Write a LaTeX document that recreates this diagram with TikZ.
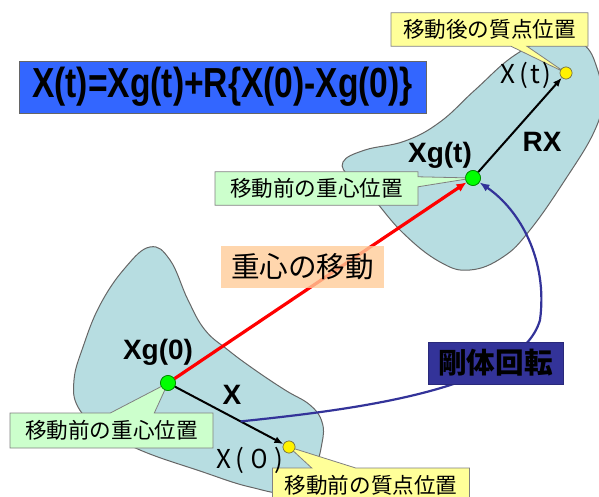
\documentclass[tikz,border=0pt]{standalone}
\usepackage{fontspec}
\setmainfont{Liberation Sans}
\newfontfamily\jpfont{Noto Sans CJK JP}
\usetikzlibrary{positioning,calc}
\usetikzlibrary{arrows.meta,shapes.callouts}
\definecolor{BodyBlue}{RGB}{183,221,225}
\definecolor{EqBlue}{RGB}{51,102,255}
\definecolor{CallGreen}{RGB}{204,255,204}
\definecolor{CallYellow}{RGB}{255,255,153}
\definecolor{MoveOrange}{RGB}{255,204,153}
\definecolor{RotNavy}{RGB}{51,51,153}
\tikzset{
  blob/.style={draw=black!60,fill=BodyBlue,line width=0.5pt},
  callg/.style={rectangle callout,draw=black!50,fill=CallGreen,font=\jpfont\fontsize{10.8}{12}\selectfont,
    minimum width=101.5pt,inner xsep=2pt},
  cally/.style={rectangle callout,draw=black!50,fill=CallYellow,font=\jpfont\fontsize{10.8}{12}\selectfont,
    minimum width=98.5pt,inner xsep=2pt},
  dotg/.style={circle,draw=green!50!black,fill=green,inner sep=0pt,minimum size=7.5pt,line width=0.3pt},
  doty/.style={circle,draw=black!60!yellow,fill=yellow,inner sep=0pt,minimum size=6pt,line width=0.3pt},
  lab/.style={font=\bfseries\fontsize{14}{16}\selectfont,inner sep=0pt},
  jlab/.style={font=\jpfont\fontsize{13}{15}\selectfont,inner sep=0pt},
}
\tikzset{vec/.style={draw=black,line width=1pt,-{Latex[length=4.5pt,width=3.5pt]}},
  move/.style={draw=red,line width=1.6pt,-{Latex[length=5pt,width=4.5pt]}},
  rot/.style={draw=RotNavy,line width=1.1pt,-{Latex[length=5pt,width=4pt]}}}

\begin{document}
\begin{tikzpicture}[x=0.5pt,y=-0.5pt]
\useasboundingbox (0,0) rectangle (599,497);
\clip (0,0) rectangle (599,497);
% bodies before and after the motion
\draw[blob] plot[smooth cycle,tension=0.7] coordinates {(150,247) (125,268) (100,305) (83,347) (74,380) (78,407) (100,428) (140,450) (200,471) (250,487) (290,492) (313,470) (322,443) (322,422) (310,405) (285,390) (255,370) (228,350) (205,330) (188,300) (170,260)};
\draw[blob] plot[smooth cycle,tension=0.7] coordinates {(343,162) (365,150) (405,141) (440,122) (475,90) (515,55) (555,37) (583,44) (597,68) (602,100) (594,132) (565,180) (530,230) (503,257) (470,270) (440,262) (403,233) (370,195) (350,178)};
% points
\node[dotg] (g0) at (168,383) {};
\node[dotg] (gt) at (473,178) {};
\node[doty] (x0) at (289,447) {};
\node[doty] (xt) at (566,73) {};
\coordinate (rotstart) at ($(g0)!0.6!(x0)$);
% vectors
\draw[move] (g0) -- (gt);
\draw[vec] (g0) -- (x0);
\draw[vec] (gt) -- (xt);
\draw[rot] (rotstart) .. controls (350,410) and (520,390) .. (540,320)
  .. controls (548,260) and (520,210) .. (gt);
% boxes
\node[draw=black!60,fill=EqBlue,minimum width=203.5pt,minimum height=26pt,inner sep=0pt,
  font=\bfseries\fontsize{21}{22}\selectfont] (eq) at (222.5,87)
  {\scalebox{0.8}[1]{X(t)=Xg(t)+R\{X(0)-Xg(0)\}}};
\node[fill=MoveOrange,fill opacity=0.8,text opacity=1,minimum width=81.5pt,minimum height=21pt,
  font=\jpfont\fontsize{14.3}{16}\selectfont] (movetag) at (302.5,267) {重心の移動};
\node[fill=RotNavy,draw=RotNavy!80!black,minimum width=67.5pt,minimum height=21pt,
  font=\jpfont\bfseries\fontsize{14.3}{16}\selectfont] (rottag) at (495.5,363) {剛体回転};
% callouts
\node[cally,minimum height=15.5pt,callout absolute pointer=(xt),callout pointer width=8pt] (tagxt) at (489.5,29.5) {移動後の質点位置};
\node[callg,minimum height=15.5pt,callout absolute pointer=(gt),callout pointer width=5pt] (taggt) at (316.5,188.5) {移動前の重心位置};
\node[callg,minimum height=17.5pt,callout absolute pointer=(g0),callout pointer width=22pt] (tagg0) at (111.5,430.5) {移動前の重心位置};
\node[cally,minimum height=17.5pt,callout absolute pointer=(x0),callout pointer width=22pt] (tagx0) at (371,485.5) {移動前の質点位置};
% redraw points on top
\node[dotg] at (g0) {};
\node[dotg] at (gt) {};
\node[doty] at (x0) {};
\node[doty] at (xt) {};
% labels
\node[lab] (lgt) at (440,155) {Xg(t)};
\node[lab] (lrx) at (542,142) {RX};
\node[lab] (lg0) at (158,352) {Xg(0)};
\node[lab] (lx) at (232,395) {X};
\node[jlab] (lxt) at (526,75) {X\hspace{2pt}(\hspace{1pt}t\hspace{1pt})};
\node[jlab] (lx0) at (250,460) {X\hspace{2pt}(\hspace{1pt}０\hspace{1pt})};
\end{tikzpicture}
\end{document}
